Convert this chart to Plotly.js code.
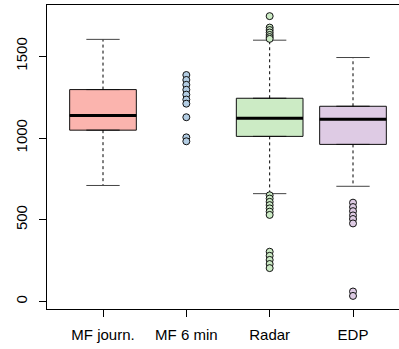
<!DOCTYPE html>
<html>
<head>
<meta charset="utf-8">
<script src="https://cdn.plot.ly/plotly-3.0.1.min.js"></script>
<style>html,body{margin:0;padding:0;background:#fff;}#chart{width:399px;height:349px;}</style>
</head>
<body>
<div id="chart"></div>
<script>
// Categories and positions
const categories = ["MF journ.", "MF 6 min", "Radar", "EDP"];
const positions = [1, 2, 3, 4];
const fillColors = ["#FBB4AE", "#B3CDE3", "#CCEBC5", "#DECBE4"];

// Box statistics (MF 6 min has no box, only points)
const boxCats = [1, 3, 4];
const boxColors = ["#FBB4AE", "#CCEBC5", "#DECBE4"];
const lowerWhisker = [710, 660, 705];
const q1 = [1048, 1010, 961];
const median = [1138, 1121, 1114];
const q3 = [1296, 1243, 1194];
const upperWhisker = [1603, 1598, 1492];

// Points drawn individually
const mf6minPoints = [1385, 1355, 1325, 1295, 1265, 1235, 1210, 1127, 1004, 980];
const radarOutliers = [1745, 1675, 1660, 1645, 1630, 1617, 1606,
                       650, 630, 610, 590, 570, 550, 530,
                       305, 280, 255, 230, 205];
const edpOutliers = [605, 578, 553, 527, 505, 478, 62, 35];

const boxWidth = 0.8;
const capHalf = 0.2;
const traces = [];

// Boxes
boxCats.forEach((p, i) => {
  traces.push({
    type: "box", x: [p], q1: [q1[i]], median: [median[i]], q3: [q3[i]],
    lowerfence: [q1[i]], upperfence: [q3[i]], width: boxWidth,
    fillcolor: boxColors[i], line: {color: "#111", width: 1},
    boxpoints: false, hoverinfo: "skip", showlegend: false
  });
});

// Whiskers (dashed)
const wx = [], wy = [];
boxCats.forEach((p, i) => {
  wx.push(p, p, null, p, p, null);
  wy.push(q3[i], upperWhisker[i], null, q1[i], lowerWhisker[i], null);
});
traces.push({type: "scatter", mode: "lines", x: wx, y: wy,
  line: {color: "#000", width: 1, dash: "3px,3px"}, hoverinfo: "skip", showlegend: false});

// Caps
const cx = [], cy = [];
boxCats.forEach((p, i) => {
  cx.push(p - capHalf, p + capHalf, null, p - capHalf, p + capHalf, null);
  cy.push(upperWhisker[i], upperWhisker[i], null, lowerWhisker[i], lowerWhisker[i], null);
});
traces.push({type: "scatter", mode: "lines", x: cx, y: cy,
  line: {color: "#444", width: 1}, hoverinfo: "skip", showlegend: false});

// Medians (thick)
const mx = [], my = [];
boxCats.forEach((p, i) => {
  mx.push(p - boxWidth / 2, p + boxWidth / 2, null);
  my.push(median[i], median[i], null);
});
traces.push({type: "scatter", mode: "lines", x: mx, y: my,
  line: {color: "#000", width: 3}, hoverinfo: "skip", showlegend: false});

// Points
function pts(pos, vals, color) {
  return {type: "scatter", mode: "markers", x: vals.map(() => pos), y: vals,
    marker: {size: 7, color: color, line: {color: "#111", width: 1}},
    hoverinfo: "skip", showlegend: false};
}
traces.push(pts(2, mf6minPoints, fillColors[1]));
traces.push(pts(3, radarOutliers, fillColors[2]));
traces.push(pts(4, edpOutliers, fillColors[3]));

const font = {family: "Liberation Sans, Arial, Helvetica, sans-serif", size: 15, color: "#000"};
const layout = {
  width: 399, height: 349,
  margin: {l: 47, r: 0, t: 5, b: 40},
  paper_bgcolor: "#fff", plot_bgcolor: "#fff",
  font: font,
  showlegend: false,
  xaxis: {
    range: [0.328, 4.552], tickvals: positions, ticktext: categories,
    ticks: "outside", ticklen: 7, tickcolor: "#000", tickwidth: 1,
    showline: true, mirror: true, linecolor: "#000", linewidth: 1,
    showgrid: false, zeroline: false, tickfont: font, ticklabelstandoff: 5
  },
  yaxis: {
    range: [-45, 1813], tickvals: [0, 500, 1000, 1500], ticktext: ["0", "500", "1000", "1500"],
    ticks: "outside", ticklen: 7, tickcolor: "#000", tickwidth: 1, tickangle: -90,
    showline: true, mirror: false, linecolor: "#000", linewidth: 1,
    showgrid: false, zeroline: false, tickfont: font, ticklabelstandoff: 6
  }
};
Plotly.newPlot("chart", traces, layout, {staticPlot: true, displayModeBar: false});
</script>
</body>
</html>
